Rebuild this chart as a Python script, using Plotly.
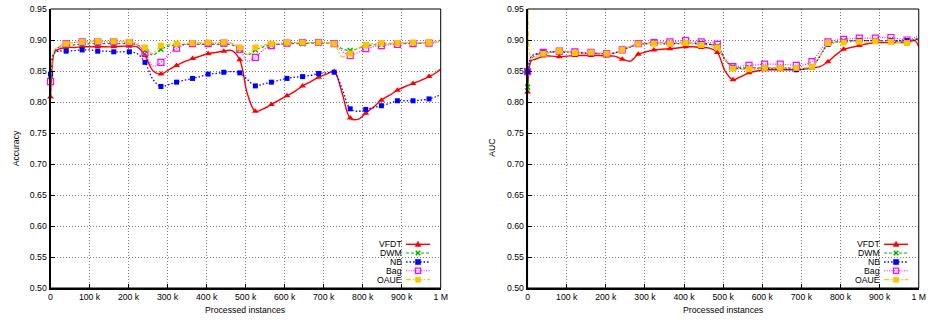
import plotly.graph_objects as go

# ---------------- data (x in thousands of processed instances) ----------------
X = [0, 5, 10, 20,
     40, 61, 81, 101, 121, 141, 162, 182, 202, 222,
     242, 263, 283, 303, 323, 343, 364, 384, 404, 424,
     444, 465, 485, 505, 525, 545, 566, 586, 606, 626,
     646, 667, 687, 707, 727, 747, 768, 788, 808, 828,
     848, 869, 889, 909, 929, 949, 970, 990,
     1000]
MARK_X = [0, 40, 81, 121, 162, 202, 242, 283, 323, 364, 404, 444, 485,
          525, 566, 606, 646, 687, 727, 768, 808, 848, 889, 929, 970]

SERIES = ["VFDT", "DWM", "NB", "Bag", "OAUE"]

ACC_VFDT = [0.808, 0.862, 0.880, 0.885,
            0.888, 0.888, 0.889, 0.889, 0.889, 0.889, 0.889, 0.890, 0.890, 0.889,
            0.875, 0.850, 0.845, 0.852, 0.859, 0.865, 0.870, 0.874, 0.878, 0.880,
            0.882, 0.883, 0.868, 0.812, 0.785, 0.789, 0.796, 0.803, 0.810, 0.817,
            0.826, 0.833, 0.840, 0.845, 0.849, 0.815, 0.774, 0.772, 0.782, 0.792,
            0.803, 0.811, 0.819, 0.825, 0.830, 0.835, 0.841, 0.848,
            0.853]
ACC_DWM = [0.842, 0.870, 0.882, 0.888,
           0.891, 0.892, 0.893, 0.894, 0.894, 0.894, 0.894, 0.894, 0.894, 0.892,
           0.883, 0.876, 0.885, 0.890, 0.892, 0.893, 0.893, 0.893, 0.893, 0.893,
           0.893, 0.892, 0.885, 0.876, 0.884, 0.889, 0.892, 0.893, 0.894, 0.894,
           0.894, 0.895, 0.895, 0.895, 0.894, 0.886, 0.883, 0.886, 0.891, 0.892,
           0.893, 0.894, 0.894, 0.895, 0.895, 0.895, 0.896, 0.898,
           0.900]
ACC_NB = [0.845, 0.872, 0.879, 0.882,
          0.882, 0.883, 0.884, 0.884, 0.882, 0.882, 0.881, 0.881, 0.881, 0.878,
          0.864, 0.836, 0.825, 0.828, 0.832, 0.835, 0.838, 0.841, 0.845, 0.846,
          0.848, 0.849, 0.847, 0.836, 0.826, 0.829, 0.832, 0.835, 0.838, 0.840,
          0.841, 0.843, 0.846, 0.847, 0.848, 0.822, 0.789, 0.785, 0.788, 0.791,
          0.794, 0.798, 0.802, 0.802, 0.802, 0.803, 0.805, 0.809,
          0.812]
ACC_BAG = [0.833, 0.866, 0.880, 0.888,
           0.894, 0.896, 0.897, 0.897, 0.897, 0.897, 0.897, 0.897, 0.896, 0.893,
           0.880, 0.858, 0.864, 0.877, 0.887, 0.892, 0.894, 0.894, 0.894, 0.895,
           0.895, 0.894, 0.885, 0.866, 0.872, 0.884, 0.891, 0.893, 0.895, 0.896,
           0.896, 0.896, 0.896, 0.896, 0.894, 0.882, 0.875, 0.880, 0.886, 0.889,
           0.891, 0.892, 0.893, 0.894, 0.894, 0.895, 0.895, 0.896,
           0.898]
ACC_OAUE = [None, 0.300, 0.884, 0.889,
            0.894, 0.896, 0.897, 0.898, 0.898, 0.898, 0.898, 0.898, 0.897, 0.895,
            0.888, 0.878, 0.891, 0.893, 0.894, 0.895, 0.895, 0.896, 0.896, 0.896,
            0.896, 0.895, 0.888, 0.877, 0.888, 0.892, 0.894, 0.895, 0.896, 0.896,
            0.896, 0.896, 0.896, 0.896, 0.894, 0.873, 0.878, 0.887, 0.892, 0.894,
            0.895, 0.895, 0.895, 0.896, 0.896, 0.896, 0.896, 0.898,
            0.900]

AUC_VFDT = [0.816, 0.858, 0.867, 0.869,
            0.874, 0.874, 0.873, 0.874, 0.875, 0.875, 0.875, 0.875, 0.874, 0.874,
            0.869, 0.866, 0.877, 0.881, 0.884, 0.885, 0.886, 0.887, 0.889, 0.889,
            0.888, 0.887, 0.880, 0.850, 0.836, 0.841, 0.847, 0.850, 0.852, 0.852,
            0.852, 0.852, 0.852, 0.853, 0.855, 0.857, 0.865, 0.876, 0.885, 0.888,
            0.891, 0.894, 0.896, 0.896, 0.896, 0.896, 0.896, 0.899,
            0.889]
AUC_DWM = [0.824, 0.860, 0.870, 0.875,
           0.879, 0.880, 0.881, 0.881, 0.880, 0.879, 0.879, 0.878, 0.878, 0.879,
           0.884, 0.889, 0.893, 0.894, 0.895, 0.895, 0.895, 0.895, 0.895, 0.895,
           0.894, 0.893, 0.890, 0.868, 0.856, 0.855, 0.855, 0.855, 0.855, 0.855,
           0.855, 0.855, 0.854, 0.854, 0.857, 0.874, 0.894, 0.897, 0.899, 0.899,
           0.899, 0.899, 0.899, 0.899, 0.898, 0.898, 0.899, 0.901,
           0.904]
AUC_NB = [0.849, 0.866, 0.874, 0.877,
          0.880, 0.881, 0.881, 0.880, 0.879, 0.879, 0.878, 0.878, 0.878, 0.879,
          0.884, 0.889, 0.893, 0.894, 0.895, 0.894, 0.894, 0.894, 0.894, 0.894,
          0.894, 0.893, 0.889, 0.868, 0.856, 0.854, 0.853, 0.854, 0.854, 0.854,
          0.854, 0.853, 0.852, 0.853, 0.857, 0.873, 0.893, 0.896, 0.897, 0.898,
          0.899, 0.899, 0.899, 0.899, 0.899, 0.899, 0.899, 0.900,
          0.902]
AUC_BAG = [0.849, 0.866, 0.874, 0.877,
           0.880, 0.881, 0.882, 0.882, 0.881, 0.880, 0.880, 0.879, 0.878, 0.879,
           0.884, 0.890, 0.894, 0.895, 0.896, 0.897, 0.897, 0.898, 0.899, 0.898,
           0.897, 0.896, 0.893, 0.870, 0.857, 0.858, 0.859, 0.860, 0.861, 0.861,
           0.861, 0.860, 0.859, 0.860, 0.865, 0.882, 0.897, 0.900, 0.901, 0.902,
           0.903, 0.903, 0.903, 0.904, 0.904, 0.902, 0.900, 0.904,
           0.907]
AUC_OAUE = [None, 1.050, 0.870, 0.872,
            0.878, 0.880, 0.882, 0.881, 0.879, 0.879, 0.880, 0.879, 0.878, 0.879,
            0.884, 0.890, 0.894, 0.894, 0.894, 0.894, 0.894, 0.894, 0.895, 0.894,
            0.892, 0.891, 0.888, 0.868, 0.854, 0.853, 0.853, 0.854, 0.855, 0.855,
            0.855, 0.855, 0.855, 0.855, 0.857, 0.873, 0.895, 0.896, 0.896, 0.897,
            0.897, 0.897, 0.898, 0.898, 0.897, 0.896, 0.895, 0.897,
            0.900]

X_TICK_VALS = [0, 100, 200, 300, 400, 500, 600, 700, 800, 900, 1000]
X_TICK_TEXT = ["0", "100 k", "200 k", "300 k", "400 k", "500 k",
               "600 k", "700 k", "800 k", "900 k", "1 M"]
Y_TICK_VALS = [0.50, 0.55, 0.60, 0.65, 0.70, 0.75, 0.80, 0.85, 0.90, 0.95]

ACC = {"VFDT": ACC_VFDT, "DWM": ACC_DWM, "NB": ACC_NB, "Bag": ACC_BAG, "OAUE": ACC_OAUE}
AUC = {"VFDT": AUC_VFDT, "DWM": AUC_DWM, "NB": AUC_NB, "Bag": AUC_BAG, "OAUE": AUC_OAUE}
for d in (ACC, AUC):
    for k, v in d.items():
        assert len(v) == len(X), (k, len(v))

# ---------------- styles ----------------
FONT = "Liberation Sans, Arial, Helvetica, sans-serif"
FS = 8.7
STYLE = {
    "VFDT": dict(color="#ff0000", dash="solid", width=1.4, symbol="triangle-up", size=6, open=False),
    "DWM": dict(color="#00b000", dash="3px,2px", width=1.2, symbol="x-thin", size=5, open=True),
    "NB": dict(color="#0000ff", dash="1.5px,2px", width=1.3, symbol="square", size=5, open=False),
    "Bag": dict(color="#ff00ff", dash="1px,1.5px", width=1.1, symbol="square-open", size=6, open=True),
    "OAUE": dict(color="#ffc400", dash="5px,2px,1.5px,2px", width=1.2, symbol="square", size=6, open=False),
}

W, H = 931, 320
MT, MB = 9, 32
PH = H - MT - MB
PANELS = [  # (data, xaxis, yaxis, left px, right px, y title, y-title x px)
    (ACC, "x", "y", 49.0, 443.0, "Accuracy", 14.5),
    (AUC, "x2", "y2", 530.7, 925.7, "AUC", 494.5),
]


def pxx(p):
    return p / W


def pxy(p):
    return (H - MB - p) / PH


fig = go.Figure()
shapes = []
annotations = []

for data, xa, ya, left, right, ytitle, ytx in PANELS:
    for name in SERIES:
        st = STYLE[name]
        vals = data[name]
        fig.add_trace(go.Scatter(
            x=X, y=vals, mode="lines", xaxis=xa, yaxis=ya, showlegend=False,
            hoverinfo="skip",
            line=dict(color=st["color"], width=st["width"], dash=st["dash"],
                      shape="spline", smoothing=1.0),
        ))
        mx = [x for x in MARK_X if vals[X.index(x)] is not None]
        my = [vals[X.index(x)] for x in mx]
        if st["symbol"] == "x-thin":
            mk = dict(symbol="x-thin", size=st["size"], color=st["color"],
                      line=dict(color=st["color"], width=1.5))
        elif st["open"]:
            mk = dict(symbol=st["symbol"], size=st["size"], color=st["color"],
                      line=dict(color=st["color"], width=1.2))
        else:
            mk = dict(symbol=st["symbol"], size=st["size"], color=st["color"],
                      line=dict(width=0))
        fig.add_trace(go.Scatter(
            x=mx, y=my, mode="markers", xaxis=xa, yaxis=ya, showlegend=False,
            cliponaxis=False, marker=mk, hoverinfo="skip",
        ))

    # frame (thin top/right)
    dom_x = xa + " domain"
    dom_y = ya + " domain"
    shapes.append(dict(type="rect", xref=dom_x, yref=dom_y, x0=0, x1=1, y0=0, y1=1,
                       line=dict(color="black", width=1), layer="above"))

    # axis titles
    annotations.append(dict(text=ytitle, x=pxx(ytx), y=pxy(148), xref="paper", yref="paper",
                            textangle=-90, showarrow=False, xanchor="center", yanchor="middle",
                            font=dict(family=FONT, size=FS, color="black")))
    annotations.append(dict(text="Processed instances", x=pxx((left + right) / 2), y=pxy(310),
                            xref="paper", yref="paper", showarrow=False,
                            xanchor="center", yanchor="middle",
                            font=dict(family=FONT, size=FS, color="black")))

    # legend (gnuplot style: text right-aligned, then sample)
    rows = [244.3, 253.0, 262.0, 270.7, 279.7]
    txt_end = right - 37.5
    l0, l1 = right - 35.0, right - 10.8
    mxp = (l0 + l1) / 2
    for name, ry in zip(SERIES, rows):
        st = STYLE[name]
        annotations.append(dict(text=name, x=pxx(txt_end), y=pxy(ry), xref="paper", yref="paper",
                                showarrow=False, xanchor="right", yanchor="middle",
                                font=dict(family=FONT, size=FS, color="black")))
        shapes.append(dict(type="line", xref="paper", yref="paper",
                           x0=pxx(l0), x1=pxx(l1), y0=pxy(ry), y1=pxy(ry),
                           line=dict(color=st["color"], width=st["width"], dash=st["dash"])))
        common = dict(xref="paper", yref="paper", xsizemode="pixel", ysizemode="pixel",
                      xanchor=pxx(mxp), yanchor=pxy(ry))
        if name == "VFDT":
            shapes.append(dict(type="path", path="M -3,-2.2 L 3,-2.2 L 0,3 Z",
                               fillcolor=st["color"], line=dict(color=st["color"], width=0.5), **common))
        elif name == "DWM":
            shapes.append(dict(type="path", path="M -2.3,-2.3 L 2.3,2.3 M -2.3,2.3 L 2.3,-2.3",
                               line=dict(color=st["color"], width=1.5), **common))
        elif name == "Bag":
            shapes.append(dict(type="rect", x0=-2.6, x1=2.6, y0=-2.6, y1=2.6,
                               line=dict(color=st["color"], width=1.2), **common))
        else:
            shapes.append(dict(type="rect", x0=-2.6, x1=2.6, y0=-2.6, y1=2.6,
                               fillcolor=st["color"], line=dict(color=st["color"], width=0.5),
                               **common))

axis_common = dict(
    showline=True, linecolor="black", linewidth=2, mirror=False,
    ticks="inside", ticklen=4, tickwidth=1, tickcolor="black",
    showgrid=True, gridcolor="#7a7a7a", gridwidth=1, griddash="1px,2px",
    zeroline=False, tickfont=dict(family=FONT, size=FS, color="black"),
)

layout = dict(
    width=W, height=H,
    margin=dict(l=0, r=0, t=MT, b=MB, pad=0),
    paper_bgcolor="white", plot_bgcolor="white",
    showlegend=False, hovermode=False,
    shapes=shapes, annotations=annotations,
)
for i, (data, xa, ya, left, right, ytitle, ytx) in enumerate(PANELS):
    suffix = "" if i == 0 else "2"
    layout["xaxis" + suffix] = dict(axis_common, domain=[pxx(left), pxx(right)], range=[0, 1000],
                                    tickvals=X_TICK_VALS, ticktext=X_TICK_TEXT,
                                    anchor="y" + suffix)
    layout["yaxis" + suffix] = dict(axis_common, domain=[0, 1], range=[0.5, 0.95],
                                    tickvals=Y_TICK_VALS, tickformat=".2f",
                                    anchor="x" + suffix)

fig.update_layout(**layout)
fig.write_html(
    "out.html",
    config={"displayModeBar": False, "staticPlot": True},
    post_script="document.body.style.margin='0';document.body.style.overflow='hidden';",
)
